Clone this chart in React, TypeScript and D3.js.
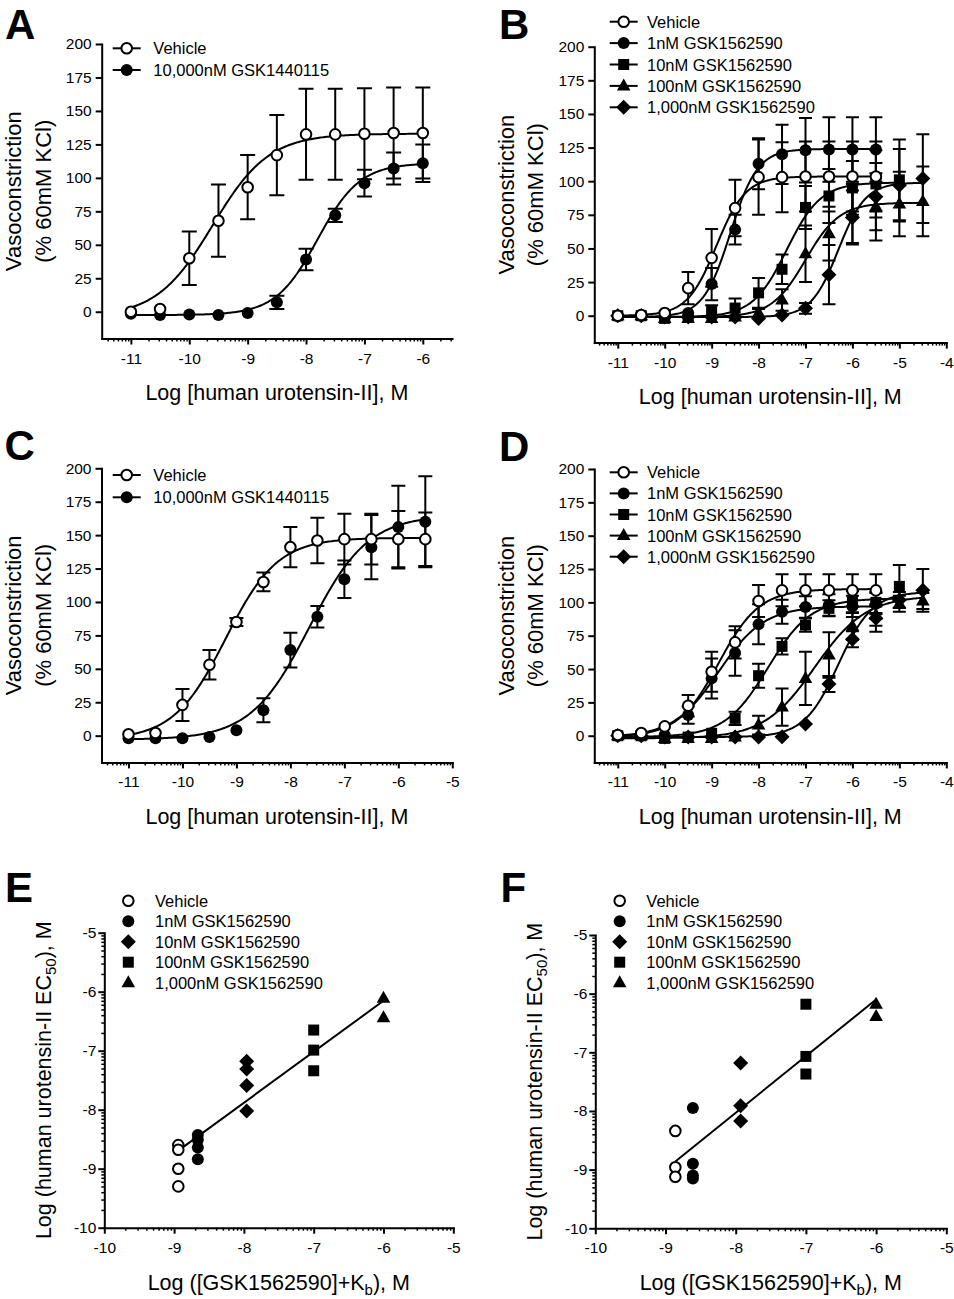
import * as d3 from 'd3';
import { useEffect, useRef } from 'react';

const FONT = '"Liberation Sans", Arial, Helvetica, sans-serif';

// log [human urotensin-II], M
const dosesAC = [-11, -10.5, -10, -9.5, -9, -8.5, -8, -7.5, -7, -6.5, -6, -5.5];
const dosesBD = [-11, -10.5, -10, -9.5, -9, -8.5, -8, -7.5, -7, -6.5, -6, -5.5, -5, -4.5];

const labelsAC = ['Vehicle', '10,000nM GSK1440115'];
const labelsBD = ['Vehicle', '1nM GSK1562590', '10nM GSK1562590', '100nM GSK1562590', '1,000nM GSK1562590'];

// fits: [bottom, top, logEC50, hill]
// ---- A
const aVehicle = [0, 2, 40, 68, 93, 117, 132.5, 132.5, 133, 133.5, 133.5];
const aVehicleSem = [0, 0, 20, 27, 24, 30, 34, 34, 34, 34, 34];
const aGsk = [-1.5, -2.5, -2, -2.5, -1, 7, 39, 72, 96, 107, 111];
const aGskSem = [0, 0, 0, 0, 0, 5, 8, 5, 10, 12, 14];
const aVehicleFit = [-4, 133, -9.6, 0.9];
const aGskFit = [-2.5, 111, -7.8, 1.2];

// ---- B
const bVehicle = [0, 0.5, 2, 20.5, 43, 80, 103, 103, 103.5, 103.5, 103.5, 103.5];
const bVehicleSem = [0, 0, 0, 12, 21.5, 21, 28, 26, 26, 26, 26, 26];
const b1nM = [0, 0, -1, 2, 23.5, 64, 113, 120, 123, 123.5, 123.5, 123.5];
const b1nMSem = [0, 0, 0, 0, 12, 11, 19, 22, 24, 24, 24, 24];
const b10nM = [0, 0, -2, -1, 3.7, 5.7, 17, 34.5, 80.5, 89, 95, 98, 101];
const b10nMSem = [0, 0, 0, 0, 4, 7, 11, 11, 16, 20, 20, 25, 30];
const b100nM = [0, 0, -2, -2, -2, -1, 2, 11.6, 46, 61, 76, 81, 83, 85];
const b100nMSem = [0, 0, 0, 0, 0, 0, 3, 8, 21, 20, 22, 25, 24, 26];
const b1000nM = [0, 0, -1, -1, -1, -1, -2, 0.5, 5.5, 30.5, 73, 88.5, 97, 102];
const b1000nMSem = [0, 0, 0, 0, 0, 0, 0, 0, 4, 22, 20, 25, 27, 33];
const bFits = [
  [0, 103.5, -8.9, 1.4],
  [-1, 124, -8.6, 1.5],
  [-1, 99, -7.4, 1.2],
  [-1, 84, -7.0, 1.2],
  [-1, 99, -6.3, 1.5],
];

// ---- C
const cVehicle = [1, 2, 23, 53, 85, 115, 141, 146, 147, 147, 147, 147];
const cVehicleSem = [0, 0, 12, 11, 3, 7, 15, 17, 19, 19, 21, 20];
const cGsk = [-2, -2, -2, -1, 4, 19, 64, 89, 117, 141, 156, 160];
const cGskSem = [0, 0, 0, 0, 0, 9, 13, 8, 14, 24, 31, 34];
const cVehicleFit = [-3, 148, -9.2, 0.9];
const cGskFit = [-3, 165, -7.65, 0.8];

// ---- D
const dVehicle = [0.5, 2, 7, 22.5, 48, 70, 101, 109, 109, 109, 109, 109];
const dVehicleSem = [0, 0, 0, 8, 15, 12, 12, 12, 12, 12, 12, 12];
const d1nM = [0, 0, 0.5, 15.5, 43, 62, 83.5, 93, 96.5, 98, 97, 99];
const d1nMSem = [0, 0, 0, 6.5, 15, 17, 15, 9, 8, 8, 8, 8];
const d10nM = [0, 0, -2, -1, 1.8, 13, 45, 67, 83, 95.5, 100.5, 100, 112];
const d10nMSem = [0, 0, 0, 0, 0, 5, 9, 6, 5, 6, 8, 8, 16];
const d100nM = [0, 0, -2, -2, -2, -1, 8, 21.5, 43, 60.5, 82, 90.5, 99, 101];
const d100nMSem = [0, 0, 0, 0, 0, 0, 7, 14, 20, 17, 10, 8, 6, 6];
const d1000nM = [0, 0, -1, -1, -1, -1, -1, -0.7, 8.8, 38.8, 72.3, 88, 101.7, 109];
const d1000nMSem = [0, 0, 0, 0, 0, 0, 0, 0, 0, 6, 6, 10, 6, 16];
const dFits = [
  [-1, 110, -8.85, 1.0],
  [-1, 97, -8.85, 0.9],
  [-1, 103, -7.8, 0.95],
  [-2, 105, -6.8, 0.8],
  [-1, 108, -6.3, 1.2],
];

// ---- E / F : Schild plots, log([GSK1562590]+Kb) and log EC50
const eXs = [-8.94, -8.66, -7.96, -7.0, -6.0];
const eVehicle = [-8.6, -8.68, -9.0, -9.3];
const e1nM = [-8.43, -8.51, -8.64, -8.84];
const e10nM = [-7.18, -7.31, -7.59, -8.02];
const e100nM = [-6.65, -6.99, -7.34];
const e1000nM = [-6.11, -6.44];
const eLine = [0.864, -0.97]; // slope, intercept

const fXs = [-8.86, -8.61, -7.93, -7.0, -6.0];
const fVehicle = [-8.34, -8.96, -9.12];
const f1nM = [-7.95, -8.9, -9.1, -9.15];
const f10nM = [-7.18, -7.91, -8.17];
const f100nM = [-6.18, -7.07, -7.37];
const f1000nM = [-6.18, -6.39];
const fLine = [0.965, -0.31];

const shapesBD = ['ocircle', 'circle', 'square', 'triangle', 'diamond'];
const shapesEF = ['ocircle', 'circle', 'diamond', 'square', 'triangle'];

const SHAPES: Record<string, number[][]> = {
  square: [[-5.5, -5.5], [5.5, -5.5], [5.5, 5.5], [-5.5, 5.5]],
  triangle: [[0, -7.5], [6.8, 4.5], [-6.8, 4.5]],
  diamond: [[0, -7.5], [7.5, 0], [0, 7.5], [-7.5, 0]],
};

const marker = (g: any, shape: string, cx: number, cy: number) => {
  if (shape === 'ocircle') {
    g.append('circle').attr('cx', cx).attr('cy', cy).attr('r', 5.3)
      .attr('fill', '#fff').attr('stroke', '#000').attr('stroke-width', 2);
  } else if (shape === 'circle') {
    g.append('circle').attr('cx', cx).attr('cy', cy).attr('r', 6).attr('fill', '#000');
  } else {
    const pts = SHAPES[shape].map(([px, py]) => [cx + px, cy + py] as [number, number]);
    g.append('path').attr('d', d3.line()(pts) + 'Z').attr('fill', '#000');
  }
};

const logistic = (f: number[], v: number) => f[0] + (f[1] - f[0]) / (1 + Math.pow(10, (f[2] - v) * f[3]));

const logMinor = (dom: number[]) => {
  const out: number[] = [];
  for (let d = Math.floor(dom[0]) - 1; d < Math.ceil(dom[1]); d++) {
    for (let k = 2; k <= 9; k++) {
      const v = d + Math.log10(k);
      if (v >= dom[0] - 1e-9 && v <= dom[1] + 1e-9) out.push(v);
    }
  }
  return out;
};

const styleAxis = (a: any) => {
  a.attr('font-family', FONT).attr('font-size', 15.5);
  a.select('.domain').attr('stroke-width', 2).attr('stroke-linecap', 'square');
  a.selectAll('.tick line').attr('stroke-width', 2);
  a.selectAll('.tick text').attr('fill', '#000');
};

const letter = (svg: any, t: string, x: number, y: number) =>
  svg.append('text').attr('x', x).attr('y', y).text(t)
    .attr('font-family', FONT).attr('font-weight', 'bold').attr('font-size', 42);

const drawDose = (svg: any, p: any) => {
  const x = d3.scaleLinear().domain(p.xDom).range([p.x0, p.x1]);
  const y = d3.scaleLinear().domain([-20, 200]).range([p.yBot, p.yTop]);
  const g = svg.append('g');

  const xa = g.append('g').attr('transform', `translate(0,${p.yBot})`)
    .call(d3.axisBottom(x).tickValues(p.xTicks).tickSize(6).tickSizeOuter(0).tickPadding(8).tickFormat((d: any) => String(d)));
  styleAxis(xa);
  const xm = g.append('g').attr('transform', `translate(0,${p.yBot})`)
    .call(d3.axisBottom(x).tickValues(logMinor(p.xDom)).tickSize(3).tickFormat(() => ''));
  xm.select('.domain').remove();
  xm.selectAll('.tick line').attr('stroke-width', 1.5);
  const ya = g.append('g').attr('transform', `translate(${p.x0},0)`)
    .call(d3.axisLeft(y).tickValues(d3.range(0, 201, 25)).tickSize(6).tickSizeOuter(0).tickPadding(4));
  styleAxis(ya);

  const yc = (p.yBot + p.yTop) / 2;
  g.append('text').attr('transform', `translate(${p.x0 - 80.5},${yc}) rotate(-90)`)
    .attr('text-anchor', 'middle').attr('font-family', FONT).attr('font-size', 22).text('Vasoconstriction');
  g.append('text').attr('transform', `translate(${p.x0 - 51},${yc}) rotate(-90)`)
    .attr('text-anchor', 'middle').attr('font-family', FONT).attr('font-size', 22).text('(% 60mM KCl)');
  g.append('text').attr('x', (p.x0 + p.x1) / 2).attr('y', p.yBot + 61.5)
    .attr('text-anchor', 'middle').attr('font-family', FONT).attr('font-size', 21.5)
    .text('Log [human urotensin-II], M');

  const series = p.series.map((s: any) => ({ ...s, x: p.doses.slice(0, s.y.length) }));
  const line = d3.line();
  series.forEach((s: any) => {
    const lo = s.x[0], hi = s.x[s.x.length - 1];
    const pts = d3.range(201).map((i) => {
      const v = lo + ((hi - lo) * i) / 200;
      return [x(v), y(logistic(s.fit, v))] as [number, number];
    });
    g.append('path').attr('d', line(pts)).attr('fill', 'none').attr('stroke', '#000').attr('stroke-width', 2);
  });
  [...series].reverse().forEach((s: any) => {
    s.y.forEach((v: number, i: number) => {
      const e = s.sem[i];
      if (!e) return;
      const cx = x(s.x[i]);
      g.append('path')
        .attr('d', `M${cx},${y(v - e)}V${y(v + e)}M${cx - p.cap},${y(v + e)}H${cx + p.cap}M${cx - p.cap},${y(v - e)}H${cx + p.cap}`)
        .attr('stroke', '#000').attr('stroke-width', 2).attr('fill', 'none');
    });
  });
  [...series].reverse().forEach((s: any) => {
    s.y.forEach((v: number, i: number) => marker(g, s.shape, x(s.x[i]), y(v)));
  });

  // legend
  series.forEach((s: any, i: number) => {
    const ly = p.legY + i * p.legDy;
    g.append('line').attr('x1', p.legSym - 14).attr('x2', p.legSym + 14).attr('y1', ly).attr('y2', ly)
      .attr('stroke', '#000').attr('stroke-width', 2);
    marker(g, s.shape, p.legSym, ly);
    g.append('text').attr('x', p.legText).attr('y', ly + 6).attr('font-family', FONT).attr('font-size', 16.5).text(s.label);
  });
};

const drawSchild = (svg: any, p: any) => {
  const x = d3.scaleLinear().domain([-10, -5]).range([p.x0, p.x1]);
  const y = d3.scaleLinear().domain([-10, -5]).range([p.yBot, p.yTop]);
  const g = svg.append('g');
  const ticks = d3.range(-10, -4, 1);

  const xa = g.append('g').attr('transform', `translate(0,${p.yBot})`)
    .call(d3.axisBottom(x).tickValues(ticks).tickSize(6).tickSizeOuter(0).tickPadding(8).tickFormat((d: any) => String(d)));
  styleAxis(xa);
  const xm = g.append('g').attr('transform', `translate(0,${p.yBot})`)
    .call(d3.axisBottom(x).tickValues(logMinor([-10, -5])).tickSize(3).tickFormat(() => ''));
  xm.select('.domain').remove();
  xm.selectAll('.tick line').attr('stroke-width', 1.5);
  const ya = g.append('g').attr('transform', `translate(${p.x0},0)`)
    .call(d3.axisLeft(y).tickValues(ticks).tickSize(6).tickSizeOuter(0).tickPadding(2).tickFormat((d: any) => String(d)));
  styleAxis(ya);
  const ym = g.append('g').attr('transform', `translate(${p.x0},0)`)
    .call(d3.axisLeft(y).tickValues(logMinor([-10, -5])).tickSize(3).tickFormat(() => ''));
  ym.select('.domain').remove();
  ym.selectAll('.tick line').attr('stroke-width', 1.5);

  const yc = (p.yBot + p.yTop) / 2;
  const yt = g.append('text').attr('transform', `translate(${p.x0 - 53},${yc}) rotate(-90)`)
    .attr('text-anchor', 'middle').attr('font-family', FONT).attr('font-size', 21.5);
  yt.append('tspan').text('Log (human urotensin-II EC');
  yt.append('tspan').attr('dy', 5).attr('font-size', 15).text('50');
  yt.append('tspan').attr('dy', -5).text('), M');
  const xt = g.append('text').attr('x', (p.x0 + p.x1) / 2).attr('y', p.yBot + 62)
    .attr('text-anchor', 'middle').attr('font-family', FONT).attr('font-size', 21.5);
  xt.append('tspan').text('Log ([GSK1562590]+K');
  xt.append('tspan').attr('dy', 5).attr('font-size', 15).text('b');
  xt.append('tspan').attr('dy', -5).text('), M');

  const [m, b] = p.fit;
  const xLo = p.xs[0], xHi = p.xs[p.xs.length - 1];
  g.append('path').attr('d', d3.line()([[x(xLo), y(m * xLo + b)], [x(xHi), y(m * xHi + b)]]))
    .attr('stroke', '#000').attr('stroke-width', 2);

  p.groups.forEach((vals: number[], i: number) => {
    vals.forEach((v) => marker(g, shapesEF[i], x(p.xs[i]), y(v)));
  });

  labelsBD.forEach((lab, i) => {
    const ly = p.legY + i * p.legDy;
    marker(g, shapesEF[i], p.legSym, ly);
    g.append('text').attr('x', p.legText).attr('y', ly + 6).attr('font-family', FONT).attr('font-size', 16.5).text(lab);
  });
};

export default function App() {
  const ref = useRef<SVGSVGElement>(null);

  useEffect(() => {
    const svg = d3.select(ref.current);
    svg.selectAll('*').remove();
    svg.append('rect').attr('width', 954).attr('height', 1299).attr('fill', '#fff');

    drawDose(svg, {
      x0: 101.7, x1: 452, xDom: [-11.5, -5.5], yTop: 44, yBot: 338.5, xTicks: d3.range(-11, -5, 1),
      doses: dosesAC, cap: 7.5, legY: 48.3, legDy: 21.7, legSym: 126.7, legText: 153.3,
      series: [
        { label: labelsAC[0], shape: 'ocircle', y: aVehicle, sem: aVehicleSem, fit: aVehicleFit },
        { label: labelsAC[1], shape: 'circle', y: aGsk, sem: aGskSem, fit: aGskFit },
      ],
    });
    drawDose(svg, {
      x0: 594.3, x1: 946.3, xDom: [-11.5, -4], yTop: 46.7, yBot: 342.6, xTicks: d3.range(-11, -3, 1),
      doses: dosesBD, cap: 6.5, legY: 21.7, legDy: 21.4, legSym: 623.7, legText: 647,
      series: [
        { label: labelsBD[0], shape: shapesBD[0], y: bVehicle, sem: bVehicleSem, fit: bFits[0] },
        { label: labelsBD[1], shape: shapesBD[1], y: b1nM, sem: b1nMSem, fit: bFits[1] },
        { label: labelsBD[2], shape: shapesBD[2], y: b10nM, sem: b10nMSem, fit: bFits[2] },
        { label: labelsBD[3], shape: shapesBD[3], y: b100nM, sem: b100nMSem, fit: bFits[3] },
        { label: labelsBD[4], shape: shapesBD[4], y: b1000nM, sem: b1000nMSem, fit: bFits[4] },
      ],
    });
    drawDose(svg, {
      x0: 101.5, x1: 452.3, xDom: [-11.5, -5], yTop: 468.3, yBot: 762.4, xTicks: d3.range(-11, -4, 1),
      doses: dosesAC, cap: 7, legY: 475, legDy: 22.3, legSym: 126.7, legText: 153.3,
      series: [
        { label: labelsAC[0], shape: 'ocircle', y: cVehicle, sem: cVehicleSem, fit: cVehicleFit },
        { label: labelsAC[1], shape: 'circle', y: cGsk, sem: cGskSem, fit: cGskFit },
      ],
    });
    drawDose(svg, {
      x0: 594.3, x1: 946.3, xDom: [-11.5, -4], yTop: 469, yBot: 762.4, xTicks: d3.range(-11, -3, 1),
      doses: dosesBD, cap: 6.5, legY: 472.3, legDy: 21.1, legSym: 623.7, legText: 647,
      series: [
        { label: labelsBD[0], shape: shapesBD[0], y: dVehicle, sem: dVehicleSem, fit: dFits[0] },
        { label: labelsBD[1], shape: shapesBD[1], y: d1nM, sem: d1nMSem, fit: dFits[1] },
        { label: labelsBD[2], shape: shapesBD[2], y: d10nM, sem: d10nMSem, fit: dFits[2] },
        { label: labelsBD[3], shape: shapesBD[3], y: d100nM, sem: d100nMSem, fit: dFits[3] },
        { label: labelsBD[4], shape: shapesBD[4], y: d1000nM, sem: d1000nMSem, fit: dFits[4] },
      ],
    });
    drawSchild(svg, {
      x0: 104.3, x1: 453.3, yTop: 932.7, yBot: 1227.7, xs: eXs, fit: eLine,
      groups: [eVehicle, e1nM, e10nM, e100nM, e1000nM],
      legY: 900.7, legDy: 20.5, legSym: 128.3, legText: 155,
    });
    drawSchild(svg, {
      x0: 595.3, x1: 946.3, yTop: 935, yBot: 1228.3, xs: fXs, fit: fLine,
      groups: [fVehicle, f1nM, f10nM, f100nM, f1000nM],
      legY: 900.7, legDy: 20.5, legSym: 619.7, legText: 646.3,
    });

    letter(svg, 'A', 5, 38.5);
    letter(svg, 'B', 499, 38.5);
    letter(svg, 'C', 4.5, 460);
    letter(svg, 'D', 499, 460.7);
    letter(svg, 'E', 5, 901.7);
    letter(svg, 'F', 500.5, 901.7);
  }, []);

  return <svg ref={ref} width={954} height={1299} style={{ position: 'absolute', left: 0, top: 0 }} />;
}
